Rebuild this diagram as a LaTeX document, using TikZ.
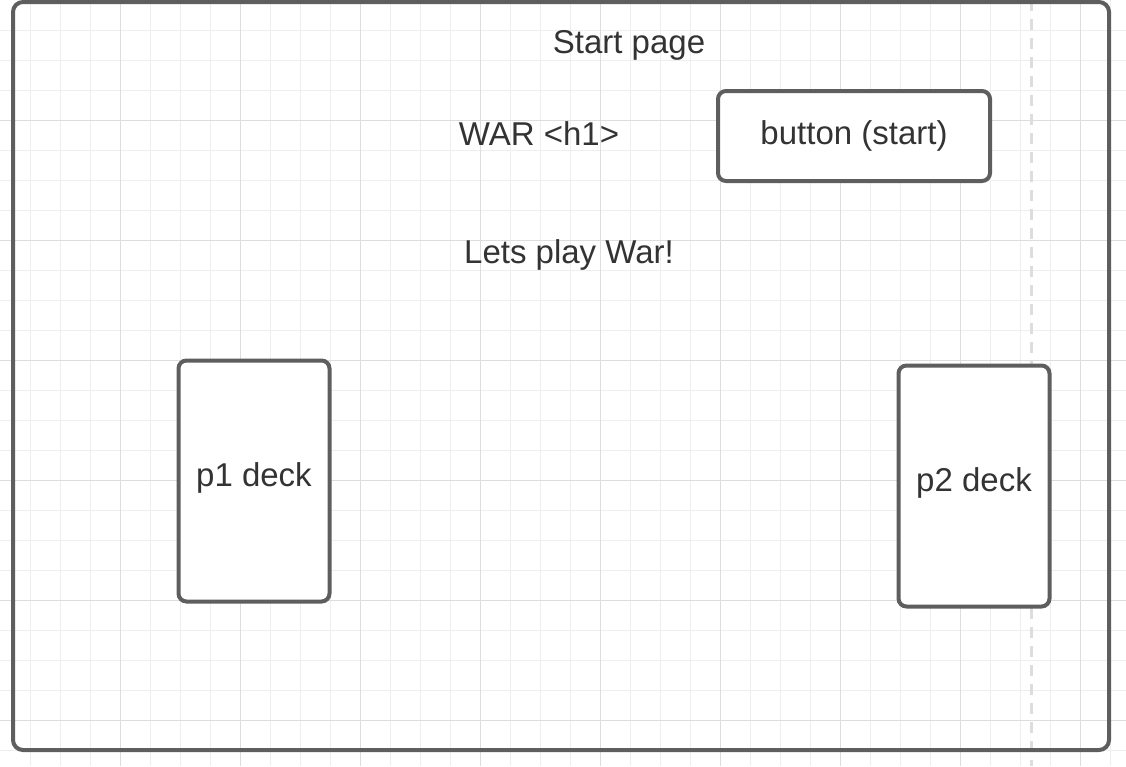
\documentclass[tikz,border=0pt]{standalone}
\usepackage{fontspec}
\setmainfont{Liberation Sans}
\usetikzlibrary{positioning}

\definecolor{strokegray}{HTML}{5E5E5E}
\definecolor{textgray}{HTML}{333333}
\definecolor{minorgrid}{HTML}{EEEEEE}
\definecolor{majorgrid}{HTML}{DDDDDD}
\definecolor{guidegray}{HTML}{DDDDDD}

\begin{document}
\begin{tikzpicture}[
		x=1pt, y=-1pt,
		box/.style={rectangle, draw=strokegray, line width=4pt, rounded corners=8pt, fill=white, align=center},
		label/.style={align=center, text=textgray, font=\fontsize{33}{40}\selectfont},
		deck/.style={box, label, minimum width=151pt, minimum height=241pt, text depth=13pt},
		frame/.style={rectangle, draw=strokegray, line width=4pt, rounded corners=10pt, inner sep=0pt}
		]
		
		\useasboundingbox (0,0) rectangle (1126,766);
		\fill[white] (0,0) rectangle (1126,766);
		
		% Background grid
		\foreach \gx in {30,60,...,1110} {
			\draw[minorgrid, line width=1pt] (\gx,0) -- (\gx,766);
		}
		\foreach \gy in {30,60,...,750} {
			\draw[minorgrid, line width=1pt] (0,\gy) -- (1126,\gy);
		}
		\foreach \gx in {120,240,...,1080} {
			\draw[majorgrid, line width=1pt] (\gx,0) -- (\gx,766);
		}
		\foreach \gy in {120,240,...,720} {
			\draw[majorgrid, line width=1pt] (0,\gy) -- (1126,\gy);
		}
		
		% Dashed guide line (right side)
		\coordinate (guidetop) at (1031,0);
		\coordinate (guidebottom) at (1031,766);
		\draw[guidegray, line width=3pt, dash pattern=on 11pt off 8pt] (guidetop) -- (guidebottom);
		
		% Page frame
		\node[frame, minimum width=1096pt, minimum height=748pt] (page) at (561,376) {};
		
		% Title
		\node[label] (title) at (629,45) {Start page};
		
		% Heading and start button
		\node[label] (heading) at (539,134) {WAR <h1>};
		\node[box, label, minimum width=272pt, minimum height=90pt] (start) at (854,136) {button (start)};
		
		% Subtitle
		\node[label] (subtitle) at (569,255) {Lets play War!};
		
		% Player decks
		\node[deck] (pone) at (254,481) {p1 deck};
		\node[deck] (ptwo) at (974,486) {p2 deck};
		
	\end{tikzpicture}
\end{document}
